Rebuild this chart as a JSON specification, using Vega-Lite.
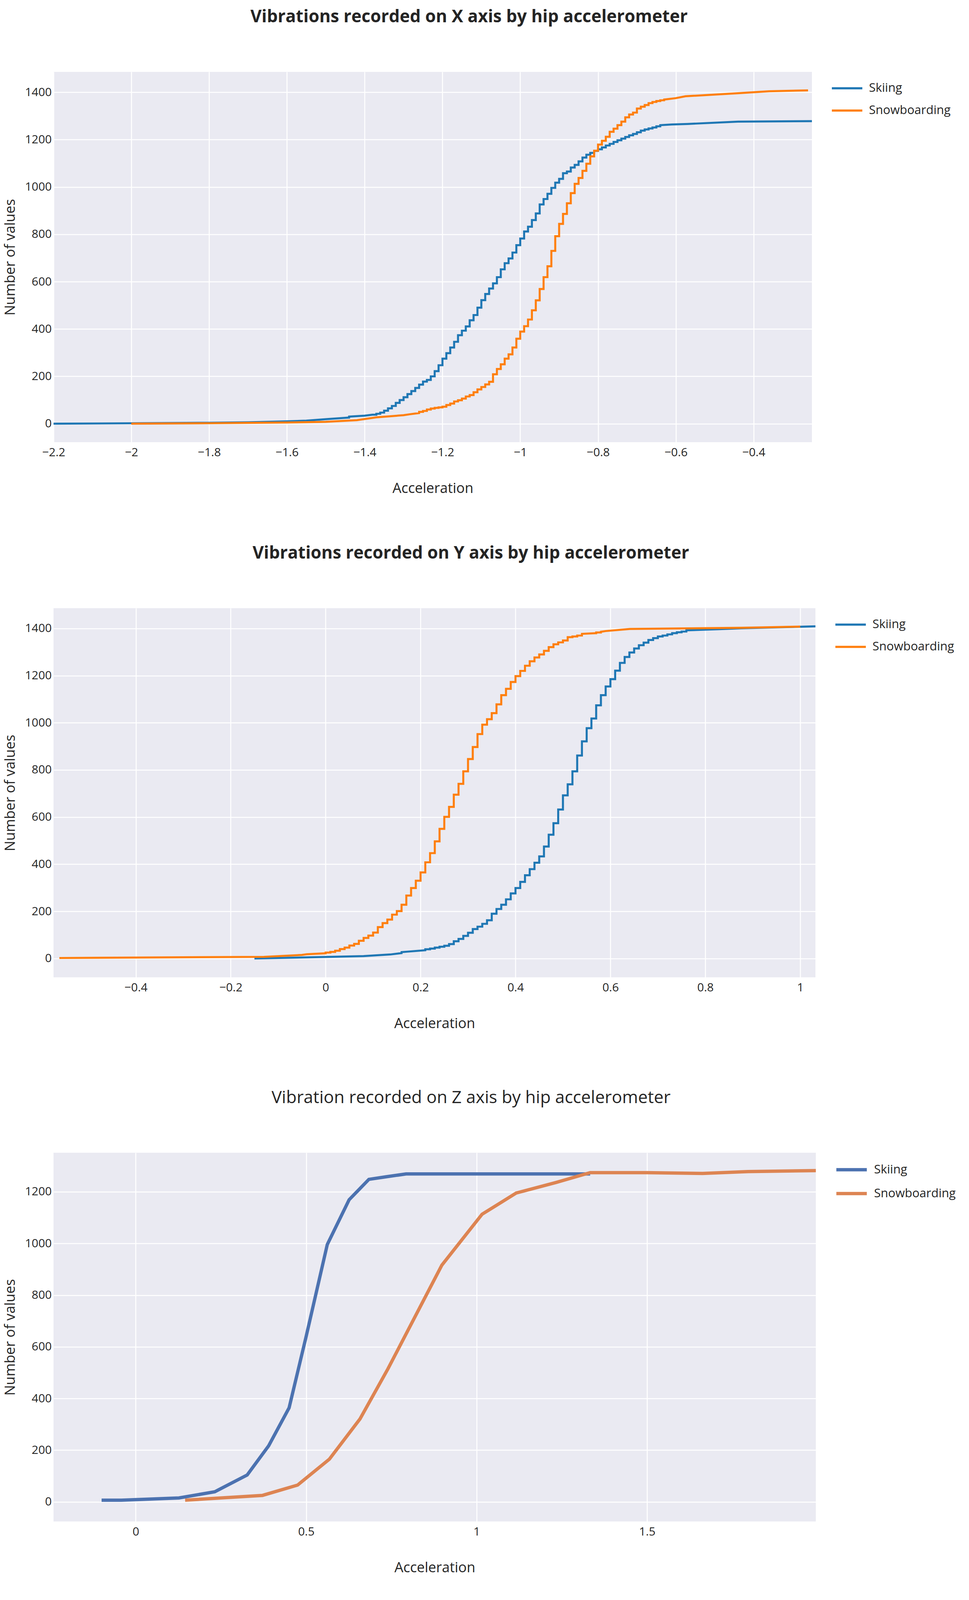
{
"$schema": "https://vega.github.io/schema/vega-lite/v6.json",
"background": "white",
"padding": {"top": 22, "left": 8, "right": 44, "bottom": 59},
"config": {
  "view": {"fill": "#EAEAF2", "stroke": null},
  "font": "Open Sans",
  "axis": {"labelFont": "Open Sans", "labelFontSize": 30, "labelColor": "#242424", "titleFont": "Open Sans", "titleFontSize": 36, "titleFontWeight": "normal", "titleColor": "#242424", "grid": true, "gridColor": "#FFFFFF", "gridWidth": 2.5, "domain": false, "ticks": false, "tickSize": 0, "labelFlush": false, "labelOverlap": false},
  "axisX": {"labelPadding": 11, "titlePadding": 60},
  "axisY": {"labelPadding": 5, "titlePadding": 18},
  "legend": {"orient": "right", "offset": 48, "padding": 0, "symbolType": "stroke", "symbolSize": 6084, "symbolStrokeWidth": 5.5, "labelFont": "Open Sans", "labelFontSize": 31, "labelColor": "#242424", "labelOffset": 14, "labelLimit": 0, "rowPadding": -41, "title": null},
  "title": {"font": "Open Sans", "fontSize": 44, "color": "#242424", "anchor": "middle", "offset": 118, "baseline": "alphabetic", "dx": 93}
},
"datasets": {
  "p1": [
    {"activity":"Skiing","acceleration":-2.2,"count":0},{"activity":"Skiing","acceleration":-2.0,"count":2},{"activity":"Skiing","acceleration":-1.8,"count":4},{"activity":"Skiing","acceleration":-1.7,"count":6},{"activity":"Skiing","acceleration":-1.6,"count":10},{"activity":"Skiing","acceleration":-1.55,"count":13},{"activity":"Skiing","acceleration":-1.5,"count":19},{"activity":"Skiing","acceleration":-1.45,"count":25},{"activity":"Skiing","acceleration":-1.44,"count":26},{"activity":"Skiing","acceleration":-1.44,"count":30},{"activity":"Skiing","acceleration":-1.4,"count":34},{"activity":"Skiing","acceleration":-1.38,"count":38},
    {"activity":"Skiing","acceleration":-1.37,"count":38},{"activity":"Skiing","acceleration":-1.37,"count":42},
    {"activity":"Skiing","acceleration":-1.36,"count":42},{"activity":"Skiing","acceleration":-1.36,"count":47},
    {"activity":"Skiing","acceleration":-1.35,"count":47},{"activity":"Skiing","acceleration":-1.35,"count":55},
    {"activity":"Skiing","acceleration":-1.34,"count":55},{"activity":"Skiing","acceleration":-1.34,"count":65},
    {"activity":"Skiing","acceleration":-1.33,"count":65},{"activity":"Skiing","acceleration":-1.33,"count":75},
    {"activity":"Skiing","acceleration":-1.32,"count":75},{"activity":"Skiing","acceleration":-1.32,"count":88},
    {"activity":"Skiing","acceleration":-1.31,"count":88},{"activity":"Skiing","acceleration":-1.31,"count":100},
    {"activity":"Skiing","acceleration":-1.30,"count":100},{"activity":"Skiing","acceleration":-1.30,"count":112},
    {"activity":"Skiing","acceleration":-1.29,"count":112},{"activity":"Skiing","acceleration":-1.29,"count":125},
    {"activity":"Skiing","acceleration":-1.28,"count":125},{"activity":"Skiing","acceleration":-1.28,"count":138},
    {"activity":"Skiing","acceleration":-1.27,"count":138},{"activity":"Skiing","acceleration":-1.27,"count":151},
    {"activity":"Skiing","acceleration":-1.26,"count":151},{"activity":"Skiing","acceleration":-1.26,"count":165},
    {"activity":"Skiing","acceleration":-1.25,"count":165},{"activity":"Skiing","acceleration":-1.25,"count":178},
    {"activity":"Skiing","acceleration":-1.24,"count":178},{"activity":"Skiing","acceleration":-1.24,"count":185},
    {"activity":"Skiing","acceleration":-1.23,"count":185},{"activity":"Skiing","acceleration":-1.23,"count":200},
    {"activity":"Skiing","acceleration":-1.22,"count":200},{"activity":"Skiing","acceleration":-1.22,"count":222},
    {"activity":"Skiing","acceleration":-1.21,"count":222},{"activity":"Skiing","acceleration":-1.21,"count":247},
    {"activity":"Skiing","acceleration":-1.20,"count":247},{"activity":"Skiing","acceleration":-1.20,"count":275},
    {"activity":"Skiing","acceleration":-1.19,"count":275},{"activity":"Skiing","acceleration":-1.19,"count":298},
    {"activity":"Skiing","acceleration":-1.18,"count":298},{"activity":"Skiing","acceleration":-1.18,"count":322},
    {"activity":"Skiing","acceleration":-1.17,"count":322},{"activity":"Skiing","acceleration":-1.17,"count":346},
    {"activity":"Skiing","acceleration":-1.16,"count":346},{"activity":"Skiing","acceleration":-1.16,"count":374},
    {"activity":"Skiing","acceleration":-1.15,"count":374},{"activity":"Skiing","acceleration":-1.15,"count":393},
    {"activity":"Skiing","acceleration":-1.14,"count":393},{"activity":"Skiing","acceleration":-1.14,"count":411},
    {"activity":"Skiing","acceleration":-1.13,"count":411},{"activity":"Skiing","acceleration":-1.13,"count":437},
    {"activity":"Skiing","acceleration":-1.12,"count":437},{"activity":"Skiing","acceleration":-1.12,"count":459},
    {"activity":"Skiing","acceleration":-1.11,"count":459},{"activity":"Skiing","acceleration":-1.11,"count":490},
    {"activity":"Skiing","acceleration":-1.10,"count":490},{"activity":"Skiing","acceleration":-1.10,"count":522},
    {"activity":"Skiing","acceleration":-1.09,"count":522},{"activity":"Skiing","acceleration":-1.09,"count":548},
    {"activity":"Skiing","acceleration":-1.08,"count":548},{"activity":"Skiing","acceleration":-1.08,"count":571},
    {"activity":"Skiing","acceleration":-1.07,"count":571},{"activity":"Skiing","acceleration":-1.07,"count":593},
    {"activity":"Skiing","acceleration":-1.06,"count":593},{"activity":"Skiing","acceleration":-1.06,"count":619},
    {"activity":"Skiing","acceleration":-1.05,"count":619},{"activity":"Skiing","acceleration":-1.05,"count":652},
    {"activity":"Skiing","acceleration":-1.04,"count":652},{"activity":"Skiing","acceleration":-1.04,"count":678},
    {"activity":"Skiing","acceleration":-1.03,"count":678},{"activity":"Skiing","acceleration":-1.03,"count":698},
    {"activity":"Skiing","acceleration":-1.02,"count":698},{"activity":"Skiing","acceleration":-1.02,"count":723},
    {"activity":"Skiing","acceleration":-1.01,"count":723},{"activity":"Skiing","acceleration":-1.01,"count":754},
    {"activity":"Skiing","acceleration":-1.00,"count":754},{"activity":"Skiing","acceleration":-1.00,"count":782},
    {"activity":"Skiing","acceleration":-0.99,"count":782},{"activity":"Skiing","acceleration":-0.99,"count":812},
    {"activity":"Skiing","acceleration":-0.98,"count":812},{"activity":"Skiing","acceleration":-0.98,"count":832},
    {"activity":"Skiing","acceleration":-0.97,"count":832},{"activity":"Skiing","acceleration":-0.97,"count":860},
    {"activity":"Skiing","acceleration":-0.96,"count":860},{"activity":"Skiing","acceleration":-0.96,"count":888},
    {"activity":"Skiing","acceleration":-0.95,"count":888},{"activity":"Skiing","acceleration":-0.95,"count":926},
    {"activity":"Skiing","acceleration":-0.94,"count":926},{"activity":"Skiing","acceleration":-0.94,"count":949},
    {"activity":"Skiing","acceleration":-0.93,"count":949},{"activity":"Skiing","acceleration":-0.93,"count":971},
    {"activity":"Skiing","acceleration":-0.92,"count":971},{"activity":"Skiing","acceleration":-0.92,"count":996},
    {"activity":"Skiing","acceleration":-0.91,"count":996},{"activity":"Skiing","acceleration":-0.91,"count":1018},
    {"activity":"Skiing","acceleration":-0.90,"count":1018},{"activity":"Skiing","acceleration":-0.90,"count":1034},
    {"activity":"Skiing","acceleration":-0.89,"count":1034},{"activity":"Skiing","acceleration":-0.89,"count":1058},
    {"activity":"Skiing","acceleration":-0.88,"count":1058},{"activity":"Skiing","acceleration":-0.88,"count":1065},
    {"activity":"Skiing","acceleration":-0.87,"count":1065},{"activity":"Skiing","acceleration":-0.87,"count":1082},
    {"activity":"Skiing","acceleration":-0.86,"count":1082},{"activity":"Skiing","acceleration":-0.86,"count":1093},
    {"activity":"Skiing","acceleration":-0.85,"count":1093},{"activity":"Skiing","acceleration":-0.85,"count":1108},
    {"activity":"Skiing","acceleration":-0.84,"count":1108},{"activity":"Skiing","acceleration":-0.84,"count":1124},
    {"activity":"Skiing","acceleration":-0.83,"count":1124},{"activity":"Skiing","acceleration":-0.83,"count":1136},
    {"activity":"Skiing","acceleration":-0.82,"count":1136},{"activity":"Skiing","acceleration":-0.82,"count":1144},
    {"activity":"Skiing","acceleration":-0.81,"count":1144},{"activity":"Skiing","acceleration":-0.81,"count":1152},
    {"activity":"Skiing","acceleration":-0.80,"count":1152},{"activity":"Skiing","acceleration":-0.80,"count":1159},
    {"activity":"Skiing","acceleration":-0.79,"count":1159},{"activity":"Skiing","acceleration":-0.79,"count":1167},
    {"activity":"Skiing","acceleration":-0.78,"count":1167},{"activity":"Skiing","acceleration":-0.78,"count":1175},
    {"activity":"Skiing","acceleration":-0.77,"count":1175},{"activity":"Skiing","acceleration":-0.77,"count":1182},
    {"activity":"Skiing","acceleration":-0.76,"count":1182},{"activity":"Skiing","acceleration":-0.76,"count":1190},
    {"activity":"Skiing","acceleration":-0.75,"count":1190},{"activity":"Skiing","acceleration":-0.75,"count":1197},
    {"activity":"Skiing","acceleration":-0.74,"count":1197},{"activity":"Skiing","acceleration":-0.74,"count":1204},
    {"activity":"Skiing","acceleration":-0.73,"count":1204},{"activity":"Skiing","acceleration":-0.73,"count":1211},
    {"activity":"Skiing","acceleration":-0.72,"count":1211},{"activity":"Skiing","acceleration":-0.72,"count":1218},
    {"activity":"Skiing","acceleration":-0.71,"count":1218},{"activity":"Skiing","acceleration":-0.71,"count":1224},
    {"activity":"Skiing","acceleration":-0.70,"count":1224},{"activity":"Skiing","acceleration":-0.70,"count":1231},
    {"activity":"Skiing","acceleration":-0.69,"count":1231},{"activity":"Skiing","acceleration":-0.69,"count":1238},
    {"activity":"Skiing","acceleration":-0.68,"count":1238},{"activity":"Skiing","acceleration":-0.68,"count":1243},
    {"activity":"Skiing","acceleration":-0.67,"count":1243},{"activity":"Skiing","acceleration":-0.67,"count":1247},
    {"activity":"Skiing","acceleration":-0.66,"count":1247},{"activity":"Skiing","acceleration":-0.66,"count":1251},
    {"activity":"Skiing","acceleration":-0.65,"count":1251},{"activity":"Skiing","acceleration":-0.65,"count":1256},
    {"activity":"Skiing","acceleration":-0.64,"count":1256},{"activity":"Skiing","acceleration":-0.64,"count":1261},
    {"activity":"Skiing","acceleration":-0.61,"count":1264},{"activity":"Skiing","acceleration":-0.57,"count":1266},{"activity":"Skiing","acceleration":-0.44,"count":1276},{"activity":"Skiing","acceleration":-0.25,"count":1278},

    {"activity":"Snowboarding","acceleration":-2.0,"count":0},{"activity":"Snowboarding","acceleration":-1.8,"count":2},{"activity":"Snowboarding","acceleration":-1.6,"count":5},{"activity":"Snowboarding","acceleration":-1.5,"count":8},{"activity":"Snowboarding","acceleration":-1.42,"count":15},{"activity":"Snowboarding","acceleration":-1.37,"count":27},{"activity":"Snowboarding","acceleration":-1.3,"count":36},{"activity":"Snowboarding","acceleration":-1.284,"count":40},
    {"activity":"Snowboarding","acceleration":-1.26,"count":45},{"activity":"Snowboarding","acceleration":-1.26,"count":50},
    {"activity":"Snowboarding","acceleration":-1.25,"count":50},{"activity":"Snowboarding","acceleration":-1.25,"count":54},
    {"activity":"Snowboarding","acceleration":-1.24,"count":54},{"activity":"Snowboarding","acceleration":-1.24,"count":60},
    {"activity":"Snowboarding","acceleration":-1.23,"count":60},{"activity":"Snowboarding","acceleration":-1.23,"count":64},
    {"activity":"Snowboarding","acceleration":-1.22,"count":64},{"activity":"Snowboarding","acceleration":-1.22,"count":67},
    {"activity":"Snowboarding","acceleration":-1.21,"count":67},{"activity":"Snowboarding","acceleration":-1.21,"count":69},
    {"activity":"Snowboarding","acceleration":-1.20,"count":69},{"activity":"Snowboarding","acceleration":-1.20,"count":72},
    {"activity":"Snowboarding","acceleration":-1.19,"count":72},{"activity":"Snowboarding","acceleration":-1.19,"count":79},
    {"activity":"Snowboarding","acceleration":-1.18,"count":79},{"activity":"Snowboarding","acceleration":-1.18,"count":85},
    {"activity":"Snowboarding","acceleration":-1.17,"count":85},{"activity":"Snowboarding","acceleration":-1.17,"count":94},
    {"activity":"Snowboarding","acceleration":-1.16,"count":94},{"activity":"Snowboarding","acceleration":-1.16,"count":99},
    {"activity":"Snowboarding","acceleration":-1.15,"count":99},{"activity":"Snowboarding","acceleration":-1.15,"count":106},
    {"activity":"Snowboarding","acceleration":-1.14,"count":106},{"activity":"Snowboarding","acceleration":-1.14,"count":115},
    {"activity":"Snowboarding","acceleration":-1.13,"count":115},{"activity":"Snowboarding","acceleration":-1.13,"count":121},
    {"activity":"Snowboarding","acceleration":-1.12,"count":121},{"activity":"Snowboarding","acceleration":-1.12,"count":133},
    {"activity":"Snowboarding","acceleration":-1.11,"count":133},{"activity":"Snowboarding","acceleration":-1.11,"count":145},
    {"activity":"Snowboarding","acceleration":-1.10,"count":145},{"activity":"Snowboarding","acceleration":-1.10,"count":155},
    {"activity":"Snowboarding","acceleration":-1.09,"count":155},{"activity":"Snowboarding","acceleration":-1.09,"count":166},
    {"activity":"Snowboarding","acceleration":-1.08,"count":166},{"activity":"Snowboarding","acceleration":-1.08,"count":177},
    {"activity":"Snowboarding","acceleration":-1.07,"count":177},{"activity":"Snowboarding","acceleration":-1.07,"count":209},
    {"activity":"Snowboarding","acceleration":-1.06,"count":209},{"activity":"Snowboarding","acceleration":-1.06,"count":231},
    {"activity":"Snowboarding","acceleration":-1.05,"count":231},{"activity":"Snowboarding","acceleration":-1.05,"count":251},
    {"activity":"Snowboarding","acceleration":-1.04,"count":251},{"activity":"Snowboarding","acceleration":-1.04,"count":275},
    {"activity":"Snowboarding","acceleration":-1.03,"count":275},{"activity":"Snowboarding","acceleration":-1.03,"count":293},
    {"activity":"Snowboarding","acceleration":-1.02,"count":293},{"activity":"Snowboarding","acceleration":-1.02,"count":322},
    {"activity":"Snowboarding","acceleration":-1.01,"count":322},{"activity":"Snowboarding","acceleration":-1.01,"count":359},
    {"activity":"Snowboarding","acceleration":-1.00,"count":359},{"activity":"Snowboarding","acceleration":-1.00,"count":389},
    {"activity":"Snowboarding","acceleration":-0.99,"count":389},{"activity":"Snowboarding","acceleration":-0.99,"count":412},
    {"activity":"Snowboarding","acceleration":-0.98,"count":412},{"activity":"Snowboarding","acceleration":-0.98,"count":440},
    {"activity":"Snowboarding","acceleration":-0.97,"count":440},{"activity":"Snowboarding","acceleration":-0.97,"count":479},
    {"activity":"Snowboarding","acceleration":-0.96,"count":479},{"activity":"Snowboarding","acceleration":-0.96,"count":521},
    {"activity":"Snowboarding","acceleration":-0.95,"count":521},{"activity":"Snowboarding","acceleration":-0.95,"count":569},
    {"activity":"Snowboarding","acceleration":-0.94,"count":569},{"activity":"Snowboarding","acceleration":-0.94,"count":619},
    {"activity":"Snowboarding","acceleration":-0.93,"count":619},{"activity":"Snowboarding","acceleration":-0.93,"count":665},
    {"activity":"Snowboarding","acceleration":-0.92,"count":665},{"activity":"Snowboarding","acceleration":-0.92,"count":730},
    {"activity":"Snowboarding","acceleration":-0.91,"count":730},{"activity":"Snowboarding","acceleration":-0.91,"count":792},
    {"activity":"Snowboarding","acceleration":-0.90,"count":792},{"activity":"Snowboarding","acceleration":-0.90,"count":844},
    {"activity":"Snowboarding","acceleration":-0.89,"count":844},{"activity":"Snowboarding","acceleration":-0.89,"count":886},
    {"activity":"Snowboarding","acceleration":-0.88,"count":886},{"activity":"Snowboarding","acceleration":-0.88,"count":931},
    {"activity":"Snowboarding","acceleration":-0.87,"count":931},{"activity":"Snowboarding","acceleration":-0.87,"count":974},
    {"activity":"Snowboarding","acceleration":-0.86,"count":974},{"activity":"Snowboarding","acceleration":-0.86,"count":1013},
    {"activity":"Snowboarding","acceleration":-0.85,"count":1013},{"activity":"Snowboarding","acceleration":-0.85,"count":1038},
    {"activity":"Snowboarding","acceleration":-0.84,"count":1038},{"activity":"Snowboarding","acceleration":-0.84,"count":1068},
    {"activity":"Snowboarding","acceleration":-0.83,"count":1068},{"activity":"Snowboarding","acceleration":-0.83,"count":1098},
    {"activity":"Snowboarding","acceleration":-0.82,"count":1098},{"activity":"Snowboarding","acceleration":-0.82,"count":1129},
    {"activity":"Snowboarding","acceleration":-0.81,"count":1129},{"activity":"Snowboarding","acceleration":-0.81,"count":1153},
    {"activity":"Snowboarding","acceleration":-0.80,"count":1153},{"activity":"Snowboarding","acceleration":-0.80,"count":1179},
    {"activity":"Snowboarding","acceleration":-0.79,"count":1179},{"activity":"Snowboarding","acceleration":-0.79,"count":1195},
    {"activity":"Snowboarding","acceleration":-0.78,"count":1195},{"activity":"Snowboarding","acceleration":-0.78,"count":1212},
    {"activity":"Snowboarding","acceleration":-0.77,"count":1212},{"activity":"Snowboarding","acceleration":-0.77,"count":1233},
    {"activity":"Snowboarding","acceleration":-0.76,"count":1233},{"activity":"Snowboarding","acceleration":-0.76,"count":1246},
    {"activity":"Snowboarding","acceleration":-0.75,"count":1246},{"activity":"Snowboarding","acceleration":-0.75,"count":1261},
    {"activity":"Snowboarding","acceleration":-0.74,"count":1261},{"activity":"Snowboarding","acceleration":-0.74,"count":1276},
    {"activity":"Snowboarding","acceleration":-0.73,"count":1276},{"activity":"Snowboarding","acceleration":-0.73,"count":1294},
    {"activity":"Snowboarding","acceleration":-0.72,"count":1294},{"activity":"Snowboarding","acceleration":-0.72,"count":1306},
    {"activity":"Snowboarding","acceleration":-0.71,"count":1306},{"activity":"Snowboarding","acceleration":-0.71,"count":1314},
    {"activity":"Snowboarding","acceleration":-0.70,"count":1314},{"activity":"Snowboarding","acceleration":-0.70,"count":1331},
    {"activity":"Snowboarding","acceleration":-0.69,"count":1331},{"activity":"Snowboarding","acceleration":-0.69,"count":1339},
    {"activity":"Snowboarding","acceleration":-0.68,"count":1339},{"activity":"Snowboarding","acceleration":-0.68,"count":1346},
    {"activity":"Snowboarding","acceleration":-0.67,"count":1346},{"activity":"Snowboarding","acceleration":-0.67,"count":1354},
    {"activity":"Snowboarding","acceleration":-0.66,"count":1354},{"activity":"Snowboarding","acceleration":-0.66,"count":1359},
    {"activity":"Snowboarding","acceleration":-0.65,"count":1359},{"activity":"Snowboarding","acceleration":-0.65,"count":1363},
    {"activity":"Snowboarding","acceleration":-0.64,"count":1363},{"activity":"Snowboarding","acceleration":-0.64,"count":1366},
    {"activity":"Snowboarding","acceleration":-0.63,"count":1366},{"activity":"Snowboarding","acceleration":-0.63,"count":1369},
    {"activity":"Snowboarding","acceleration":-0.6,"count":1375},{"activity":"Snowboarding","acceleration":-0.575,"count":1383},{"activity":"Snowboarding","acceleration":-0.44,"count":1396},{"activity":"Snowboarding","acceleration":-0.36,"count":1404},{"activity":"Snowboarding","acceleration":-0.26,"count":1408}
  ],
  "p2": [
    {"activity":"Skiing","acceleration":-0.15,"count":0},{"activity":"Skiing","acceleration":0.08,"count":10},{"activity":"Skiing","acceleration":0.136,"count":17},{"activity":"Skiing","acceleration":0.16,"count":23},{"activity":"Skiing","acceleration":0.16,"count":27},{"activity":"Skiing","acceleration":0.172,"count":29},{"activity":"Skiing","acceleration":0.21,"count":35},{"activity":"Skiing","acceleration":0.21,"count":39},
    {"activity":"Skiing","acceleration":0.22,"count":39},{"activity":"Skiing","acceleration":0.22,"count":42},
    {"activity":"Skiing","acceleration":0.23,"count":42},{"activity":"Skiing","acceleration":0.23,"count":46},
    {"activity":"Skiing","acceleration":0.24,"count":46},{"activity":"Skiing","acceleration":0.24,"count":50},
    {"activity":"Skiing","acceleration":0.25,"count":50},{"activity":"Skiing","acceleration":0.25,"count":54},
    {"activity":"Skiing","acceleration":0.26,"count":54},{"activity":"Skiing","acceleration":0.26,"count":61},
    {"activity":"Skiing","acceleration":0.27,"count":61},{"activity":"Skiing","acceleration":0.27,"count":73},
    {"activity":"Skiing","acceleration":0.28,"count":73},{"activity":"Skiing","acceleration":0.28,"count":83},
    {"activity":"Skiing","acceleration":0.29,"count":83},{"activity":"Skiing","acceleration":0.29,"count":96},
    {"activity":"Skiing","acceleration":0.30,"count":96},{"activity":"Skiing","acceleration":0.30,"count":109},
    {"activity":"Skiing","acceleration":0.31,"count":109},{"activity":"Skiing","acceleration":0.31,"count":125},
    {"activity":"Skiing","acceleration":0.32,"count":125},{"activity":"Skiing","acceleration":0.32,"count":135},
    {"activity":"Skiing","acceleration":0.33,"count":135},{"activity":"Skiing","acceleration":0.33,"count":147},
    {"activity":"Skiing","acceleration":0.34,"count":147},{"activity":"Skiing","acceleration":0.34,"count":162},
    {"activity":"Skiing","acceleration":0.35,"count":162},{"activity":"Skiing","acceleration":0.35,"count":190},
    {"activity":"Skiing","acceleration":0.36,"count":190},{"activity":"Skiing","acceleration":0.36,"count":210},
    {"activity":"Skiing","acceleration":0.37,"count":210},{"activity":"Skiing","acceleration":0.37,"count":228},
    {"activity":"Skiing","acceleration":0.38,"count":228},{"activity":"Skiing","acceleration":0.38,"count":251},
    {"activity":"Skiing","acceleration":0.39,"count":251},{"activity":"Skiing","acceleration":0.39,"count":276},
    {"activity":"Skiing","acceleration":0.40,"count":276},{"activity":"Skiing","acceleration":0.40,"count":299},
    {"activity":"Skiing","acceleration":0.41,"count":299},{"activity":"Skiing","acceleration":0.41,"count":325},
    {"activity":"Skiing","acceleration":0.42,"count":325},{"activity":"Skiing","acceleration":0.42,"count":353},
    {"activity":"Skiing","acceleration":0.43,"count":353},{"activity":"Skiing","acceleration":0.43,"count":379},
    {"activity":"Skiing","acceleration":0.44,"count":379},{"activity":"Skiing","acceleration":0.44,"count":406},
    {"activity":"Skiing","acceleration":0.45,"count":406},{"activity":"Skiing","acceleration":0.45,"count":433},
    {"activity":"Skiing","acceleration":0.46,"count":433},{"activity":"Skiing","acceleration":0.46,"count":475},
    {"activity":"Skiing","acceleration":0.47,"count":475},{"activity":"Skiing","acceleration":0.47,"count":525},
    {"activity":"Skiing","acceleration":0.48,"count":525},{"activity":"Skiing","acceleration":0.48,"count":574},
    {"activity":"Skiing","acceleration":0.49,"count":574},{"activity":"Skiing","acceleration":0.49,"count":632},
    {"activity":"Skiing","acceleration":0.50,"count":632},{"activity":"Skiing","acceleration":0.50,"count":692},
    {"activity":"Skiing","acceleration":0.51,"count":692},{"activity":"Skiing","acceleration":0.51,"count":739},
    {"activity":"Skiing","acceleration":0.52,"count":739},{"activity":"Skiing","acceleration":0.52,"count":794},
    {"activity":"Skiing","acceleration":0.53,"count":794},{"activity":"Skiing","acceleration":0.53,"count":861},
    {"activity":"Skiing","acceleration":0.54,"count":861},{"activity":"Skiing","acceleration":0.54,"count":921},
    {"activity":"Skiing","acceleration":0.55,"count":921},{"activity":"Skiing","acceleration":0.55,"count":977},
    {"activity":"Skiing","acceleration":0.56,"count":977},{"activity":"Skiing","acceleration":0.56,"count":1018},
    {"activity":"Skiing","acceleration":0.57,"count":1018},{"activity":"Skiing","acceleration":0.57,"count":1074},
    {"activity":"Skiing","acceleration":0.58,"count":1074},{"activity":"Skiing","acceleration":0.58,"count":1117},
    {"activity":"Skiing","acceleration":0.59,"count":1117},{"activity":"Skiing","acceleration":0.59,"count":1154},
    {"activity":"Skiing","acceleration":0.60,"count":1154},{"activity":"Skiing","acceleration":0.60,"count":1185},
    {"activity":"Skiing","acceleration":0.61,"count":1185},{"activity":"Skiing","acceleration":0.61,"count":1221},
    {"activity":"Skiing","acceleration":0.62,"count":1221},{"activity":"Skiing","acceleration":0.62,"count":1254},
    {"activity":"Skiing","acceleration":0.63,"count":1254},{"activity":"Skiing","acceleration":0.63,"count":1279},
    {"activity":"Skiing","acceleration":0.64,"count":1279},{"activity":"Skiing","acceleration":0.64,"count":1298},
    {"activity":"Skiing","acceleration":0.65,"count":1298},{"activity":"Skiing","acceleration":0.65,"count":1315},
    {"activity":"Skiing","acceleration":0.66,"count":1315},{"activity":"Skiing","acceleration":0.66,"count":1329},
    {"activity":"Skiing","acceleration":0.67,"count":1329},{"activity":"Skiing","acceleration":0.67,"count":1340},
    {"activity":"Skiing","acceleration":0.68,"count":1340},{"activity":"Skiing","acceleration":0.68,"count":1351},
    {"activity":"Skiing","acceleration":0.69,"count":1351},{"activity":"Skiing","acceleration":0.69,"count":1359},
    {"activity":"Skiing","acceleration":0.70,"count":1359},{"activity":"Skiing","acceleration":0.70,"count":1366},
    {"activity":"Skiing","acceleration":0.71,"count":1366},{"activity":"Skiing","acceleration":0.71,"count":1370},
    {"activity":"Skiing","acceleration":0.72,"count":1370},{"activity":"Skiing","acceleration":0.72,"count":1375},
    {"activity":"Skiing","acceleration":0.73,"count":1375},{"activity":"Skiing","acceleration":0.73,"count":1380},
    {"activity":"Skiing","acceleration":0.74,"count":1380},{"activity":"Skiing","acceleration":0.74,"count":1384},
    {"activity":"Skiing","acceleration":0.75,"count":1384},{"activity":"Skiing","acceleration":0.75,"count":1387},
    {"activity":"Skiing","acceleration":0.76,"count":1387},{"activity":"Skiing","acceleration":0.76,"count":1392},
    {"activity":"Skiing","acceleration":0.83,"count":1397},{"activity":"Skiing","acceleration":0.876,"count":1401},{"activity":"Skiing","acceleration":1.032,"count":1409},

    {"activity":"Snowboarding","acceleration":-0.561,"count":2},{"activity":"Snowboarding","acceleration":-0.13,"count":7},{"activity":"Snowboarding","acceleration":-0.05,"count":15},{"activity":"Snowboarding","acceleration":-0.04,"count":18},{"activity":"Snowboarding","acceleration":-0.02,"count":20},{"activity":"Snowboarding","acceleration":0.0,"count":22},{"activity":"Snowboarding","acceleration":0.0,"count":25},
    {"activity":"Snowboarding","acceleration":0.01,"count":25},{"activity":"Snowboarding","acceleration":0.01,"count":28},
    {"activity":"Snowboarding","acceleration":0.02,"count":28},{"activity":"Snowboarding","acceleration":0.02,"count":33},
    {"activity":"Snowboarding","acceleration":0.03,"count":33},{"activity":"Snowboarding","acceleration":0.03,"count":40},
    {"activity":"Snowboarding","acceleration":0.04,"count":40},{"activity":"Snowboarding","acceleration":0.04,"count":46},
    {"activity":"Snowboarding","acceleration":0.05,"count":46},{"activity":"Snowboarding","acceleration":0.05,"count":55},
    {"activity":"Snowboarding","acceleration":0.06,"count":55},{"activity":"Snowboarding","acceleration":0.06,"count":62},
    {"activity":"Snowboarding","acceleration":0.07,"count":62},{"activity":"Snowboarding","acceleration":0.07,"count":75},
    {"activity":"Snowboarding","acceleration":0.08,"count":75},{"activity":"Snowboarding","acceleration":0.08,"count":87},
    {"activity":"Snowboarding","acceleration":0.09,"count":87},{"activity":"Snowboarding","acceleration":0.09,"count":97},
    {"activity":"Snowboarding","acceleration":0.10,"count":97},{"activity":"Snowboarding","acceleration":0.10,"count":110},
    {"activity":"Snowboarding","acceleration":0.11,"count":110},{"activity":"Snowboarding","acceleration":0.11,"count":133},
    {"activity":"Snowboarding","acceleration":0.12,"count":133},{"activity":"Snowboarding","acceleration":0.12,"count":150},
    {"activity":"Snowboarding","acceleration":0.13,"count":150},{"activity":"Snowboarding","acceleration":0.13,"count":165},
    {"activity":"Snowboarding","acceleration":0.14,"count":165},{"activity":"Snowboarding","acceleration":0.14,"count":186},
    {"activity":"Snowboarding","acceleration":0.15,"count":186},{"activity":"Snowboarding","acceleration":0.15,"count":201},
    {"activity":"Snowboarding","acceleration":0.16,"count":201},{"activity":"Snowboarding","acceleration":0.16,"count":228},
    {"activity":"Snowboarding","acceleration":0.17,"count":228},{"activity":"Snowboarding","acceleration":0.17,"count":267},
    {"activity":"Snowboarding","acceleration":0.18,"count":267},{"activity":"Snowboarding","acceleration":0.18,"count":299},
    {"activity":"Snowboarding","acceleration":0.19,"count":299},{"activity":"Snowboarding","acceleration":0.19,"count":330},
    {"activity":"Snowboarding","acceleration":0.20,"count":330},{"activity":"Snowboarding","acceleration":0.20,"count":365},
    {"activity":"Snowboarding","acceleration":0.21,"count":365},{"activity":"Snowboarding","acceleration":0.21,"count":408},
    {"activity":"Snowboarding","acceleration":0.22,"count":408},{"activity":"Snowboarding","acceleration":0.22,"count":447},
    {"activity":"Snowboarding","acceleration":0.23,"count":447},{"activity":"Snowboarding","acceleration":0.23,"count":497},
    {"activity":"Snowboarding","acceleration":0.24,"count":497},{"activity":"Snowboarding","acceleration":0.24,"count":550},
    {"activity":"Snowboarding","acceleration":0.25,"count":550},{"activity":"Snowboarding","acceleration":0.25,"count":601},
    {"activity":"Snowboarding","acceleration":0.26,"count":601},{"activity":"Snowboarding","acceleration":0.26,"count":643},
    {"activity":"Snowboarding","acceleration":0.27,"count":643},{"activity":"Snowboarding","acceleration":0.27,"count":695},
    {"activity":"Snowboarding","acceleration":0.28,"count":695},{"activity":"Snowboarding","acceleration":0.28,"count":741},
    {"activity":"Snowboarding","acceleration":0.29,"count":741},{"activity":"Snowboarding","acceleration":0.29,"count":794},
    {"activity":"Snowboarding","acceleration":0.30,"count":794},{"activity":"Snowboarding","acceleration":0.30,"count":846},
    {"activity":"Snowboarding","acceleration":0.31,"count":846},{"activity":"Snowboarding","acceleration":0.31,"count":897},
    {"activity":"Snowboarding","acceleration":0.32,"count":897},{"activity":"Snowboarding","acceleration":0.32,"count":952},
    {"activity":"Snowboarding","acceleration":0.33,"count":952},{"activity":"Snowboarding","acceleration":0.33,"count":992},
    {"activity":"Snowboarding","acceleration":0.34,"count":992},{"activity":"Snowboarding","acceleration":0.34,"count":1015},
    {"activity":"Snowboarding","acceleration":0.35,"count":1015},{"activity":"Snowboarding","acceleration":0.35,"count":1041},
    {"activity":"Snowboarding","acceleration":0.36,"count":1041},{"activity":"Snowboarding","acceleration":0.36,"count":1078},
    {"activity":"Snowboarding","acceleration":0.37,"count":1078},{"activity":"Snowboarding","acceleration":0.37,"count":1117},
    {"activity":"Snowboarding","acceleration":0.38,"count":1117},{"activity":"Snowboarding","acceleration":0.38,"count":1144},
    {"activity":"Snowboarding","acceleration":0.39,"count":1144},{"activity":"Snowboarding","acceleration":0.39,"count":1173},
    {"activity":"Snowboarding","acceleration":0.40,"count":1173},{"activity":"Snowboarding","acceleration":0.40,"count":1198},
    {"activity":"Snowboarding","acceleration":0.41,"count":1198},{"activity":"Snowboarding","acceleration":0.41,"count":1220},
    {"activity":"Snowboarding","acceleration":0.42,"count":1220},{"activity":"Snowboarding","acceleration":0.42,"count":1242},
    {"activity":"Snowboarding","acceleration":0.43,"count":1242},{"activity":"Snowboarding","acceleration":0.43,"count":1261},
    {"activity":"Snowboarding","acceleration":0.44,"count":1261},{"activity":"Snowboarding","acceleration":0.44,"count":1277},
    {"activity":"Snowboarding","acceleration":0.45,"count":1277},{"activity":"Snowboarding","acceleration":0.45,"count":1290},
    {"activity":"Snowboarding","acceleration":0.46,"count":1290},{"activity":"Snowboarding","acceleration":0.46,"count":1305},
    {"activity":"Snowboarding","acceleration":0.47,"count":1305},{"activity":"Snowboarding","acceleration":0.47,"count":1321},
    {"activity":"Snowboarding","acceleration":0.48,"count":1321},{"activity":"Snowboarding","acceleration":0.48,"count":1333},
    {"activity":"Snowboarding","acceleration":0.49,"count":1333},{"activity":"Snowboarding","acceleration":0.49,"count":1341},
    {"activity":"Snowboarding","acceleration":0.50,"count":1341},{"activity":"Snowboarding","acceleration":0.50,"count":1349},
    {"activity":"Snowboarding","acceleration":0.51,"count":1349},{"activity":"Snowboarding","acceleration":0.51,"count":1363},
    {"activity":"Snowboarding","acceleration":0.52,"count":1363},{"activity":"Snowboarding","acceleration":0.52,"count":1366},
    {"activity":"Snowboarding","acceleration":0.53,"count":1366},{"activity":"Snowboarding","acceleration":0.53,"count":1370},
    {"activity":"Snowboarding","acceleration":0.54,"count":1370},{"activity":"Snowboarding","acceleration":0.54,"count":1377},
    {"activity":"Snowboarding","acceleration":0.57,"count":1380},{"activity":"Snowboarding","acceleration":0.57,"count":1383},
    {"activity":"Snowboarding","acceleration":0.58,"count":1383},{"activity":"Snowboarding","acceleration":0.58,"count":1386},
    {"activity":"Snowboarding","acceleration":0.59,"count":1389},{"activity":"Snowboarding","acceleration":0.641,"count":1398},{"activity":"Snowboarding","acceleration":0.876,"count":1403},{"activity":"Snowboarding","acceleration":1.0,"count":1408}
  ],
  "p3": [
    {"activity":"Skiing","acceleration":-0.10,"count":6.5},{"activity":"Skiing","acceleration":-0.042,"count":6.5},{"activity":"Skiing","acceleration":0.127,"count":15},{"activity":"Skiing","acceleration":0.232,"count":39},{"activity":"Skiing","acceleration":0.327,"count":104},{"activity":"Skiing","acceleration":0.39,"count":217},{"activity":"Skiing","acceleration":0.45,"count":364},{"activity":"Skiing","acceleration":0.5,"count":640},{"activity":"Skiing","acceleration":0.562,"count":996},{"activity":"Skiing","acceleration":0.626,"count":1169},{"activity":"Skiing","acceleration":0.684,"count":1248},{"activity":"Skiing","acceleration":0.735,"count":1258},{"activity":"Skiing","acceleration":0.793,"count":1269},{"activity":"Skiing","acceleration":1.333,"count":1269},
    {"activity":"Snowboarding","acceleration":0.145,"count":6.5},{"activity":"Snowboarding","acceleration":0.372,"count":25},{"activity":"Snowboarding","acceleration":0.475,"count":65},{"activity":"Snowboarding","acceleration":0.568,"count":165},{"activity":"Snowboarding","acceleration":0.658,"count":321},{"activity":"Snowboarding","acceleration":0.74,"count":515},{"activity":"Snowboarding","acceleration":0.898,"count":916},{"activity":"Snowboarding","acceleration":1.016,"count":1113},{"activity":"Snowboarding","acceleration":1.116,"count":1195},{"activity":"Snowboarding","acceleration":1.233,"count":1236},{"activity":"Snowboarding","acceleration":1.333,"count":1274},{"activity":"Snowboarding","acceleration":1.5,"count":1274},{"activity":"Snowboarding","acceleration":1.663,"count":1271},{"activity":"Snowboarding","acceleration":1.796,"count":1278},{"activity":"Snowboarding","acceleration":1.995,"count":1282}
  ]
},
"spacing": 151,
"resolve": {"scale": {"x": "independent", "y": "independent", "color": "independent"}, "legend": {"color": "independent"}, "axis": {"x": "independent", "y": "independent"}},
"vconcat": [
  {
    "spacing": 127,
    "resolve": {"scale": {"x": "independent", "y": "independent", "color": "independent"}, "legend": {"color": "independent"}, "axis": {"x": "independent", "y": "independent"}},
    "vconcat": [
      {
        "width": 1941, "height": 948,
        "title": {"text": "Vibrations recorded on X axis by hip accelerometer", "fontWeight": "bold"},
        "data": {"name": "p1"},
        "mark": {"type": "line", "strokeWidth": 5.2, "clip": true},
        "encoding": {
          "x": {"field": "acceleration", "type": "quantitative", "scale": {"domain": [-2.2, -0.25], "nice": false, "zero": false}, "axis": {"title": "Acceleration", "values": [-2.2, -2, -1.8, -1.6, -1.4, -1.2, -1, -0.8, -0.6, -0.4], "format": "~g"}},
          "y": {"field": "count", "type": "quantitative", "scale": {"domain": [-78, 1486], "nice": false, "zero": false}, "axis": {"title": "Number of values", "values": [0, 200, 400, 600, 800, 1000, 1200, 1400], "format": "d"}},
          "color": {"field": "activity", "type": "nominal", "scale": {"domain": ["Skiing", "Snowboarding"], "range": ["#1f77b4", "#ff7f0e"]}, "legend": {"title": null}},
          "order": [{"field": "count", "type": "quantitative"}, {"field": "acceleration", "type": "quantitative"}]
        }
      },
      {
        "width": 1950, "height": 945,
        "title": {"text": "Vibrations recorded on Y axis by hip accelerometer", "fontWeight": "bold"},
        "data": {"name": "p2"},
        "mark": {"type": "line", "strokeWidth": 5.2, "clip": true},
        "encoding": {
          "x": {"field": "acceleration", "type": "quantitative", "scale": {"domain": [-0.5733, 1.032], "nice": false, "zero": false}, "axis": {"title": "Acceleration", "values": [-0.4, -0.2, 0, 0.2, 0.4, 0.6, 0.8, 1], "format": "~g"}},
          "y": {"field": "count", "type": "quantitative", "scale": {"domain": [-80, 1486], "nice": false, "zero": false}, "axis": {"title": "Number of values", "values": [0, 200, 400, 600, 800, 1000, 1200, 1400], "format": "d"}},
          "color": {"field": "activity", "type": "nominal", "scale": {"domain": ["Skiing", "Snowboarding"], "range": ["#1f77b4", "#ff7f0e"]}, "legend": {"title": null}},
          "order": [{"field": "count", "type": "quantitative"}, {"field": "acceleration", "type": "quantitative"}]
        }
      }
    ]
  },
  {
    "width": 1951, "height": 944,
    "title": {"text": "Vibration recorded on Z axis by hip accelerometer", "fontWeight": "normal"},
    "data": {"name": "p3"},
    "mark": {"type": "line", "strokeWidth": 8.5, "clip": true},
    "encoding": {
      "x": {"field": "acceleration", "type": "quantitative", "scale": {"domain": [-0.241, 1.995], "nice": false, "zero": false}, "axis": {"title": "Acceleration", "values": [0, 0.5, 1, 1.5], "format": "~g"}},
      "y": {"field": "count", "type": "quantitative", "scale": {"domain": [-76, 1351], "nice": false, "zero": false}, "axis": {"title": "Number of values", "values": [0, 200, 400, 600, 800, 1000, 1200], "format": "d"}},
      "color": {"field": "activity", "type": "nominal", "scale": {"domain": ["Skiing", "Snowboarding"], "range": ["#4C72B0", "#DD8452"]}, "legend": {"title": null, "symbolStrokeWidth": 8.5}},
      "order": [{"field": "count", "type": "quantitative"}, {"field": "acceleration", "type": "quantitative"}]
    }
  }
]
}
